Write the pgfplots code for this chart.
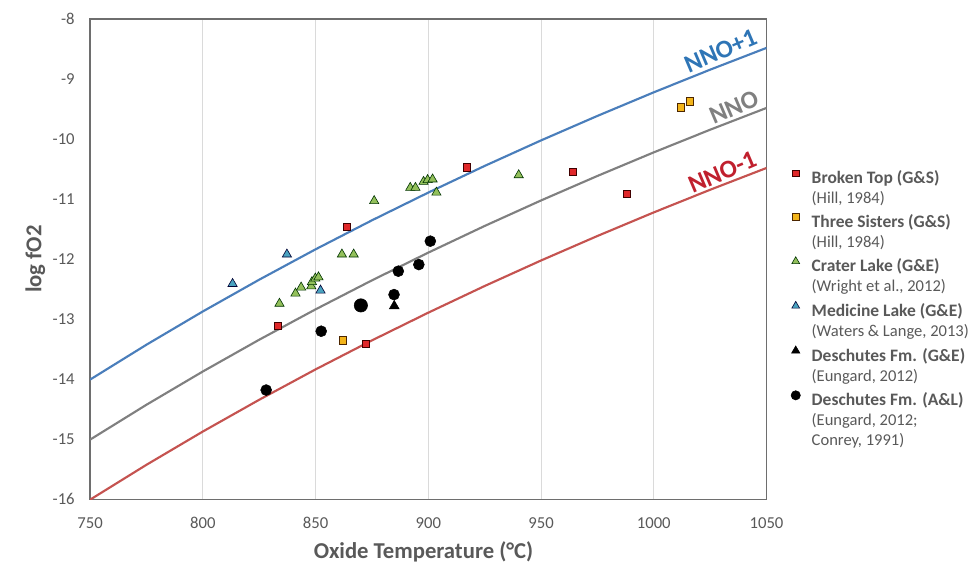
\documentclass[border=0pt]{standalone}
\usepackage{pgfplots}
\pgfplotsset{compat=1.18}
\usepackage{fontspec}
\setmainfont{Carlito}

\definecolor{axisgray}{HTML}{595959}
\definecolor{framegray}{HTML}{6E6E6E}
\definecolor{gridgray}{HTML}{DADADA}
\definecolor{nnoblue}{HTML}{4A7EBB}
\definecolor{nnobluetext}{HTML}{2E75B6}
\definecolor{nnogray}{HTML}{808080}
\definecolor{nnored}{HTML}{C55350}
\definecolor{nnoredtext}{HTML}{C0202E}
\definecolor{btred}{HTML}{E0282A}
\definecolor{tsorange}{HTML}{F2B41A}
\definecolor{clgreen}{HTML}{93C05B}
\definecolor{mlblue}{HTML}{4AA3C0}

% Ni-NiO oxygen buffer and the +/-1 log unit curves
\pgfplotstableread{
T     nno     nnop    nnom
750  -15.006 -14.006 -16.006
775  -14.425 -13.425 -15.425
800  -13.871 -12.871 -14.871
825  -13.342 -12.342 -14.342
850  -12.836 -11.836 -13.836
875  -12.353 -11.353 -13.353
900  -11.891 -10.891 -12.891
925  -11.447 -10.447 -12.447
950  -11.022 -10.022 -12.022
975  -10.614  -9.614 -11.614
1000 -10.221  -9.221 -11.221
1025  -9.844  -8.844 -10.844
1050  -9.481  -8.481 -10.481
}\buffers

\pgfplotstableread{
T     f
833.1 -13.11
863.9 -11.46
872.1 -13.41
917.2 -10.47
964.1 -10.55
987.9 -10.91
}\brokentop

\pgfplotstableread{
T      f
862.0  -13.35
1012.0  -9.47
1016.0  -9.37
}\threesisters

\pgfplotstableread{
T     f
834.0 -12.74
841.1 -12.57
843.6 -12.47
848.1 -12.45
848.4 -12.38
849.9 -12.32
851.3 -12.30
861.7 -11.92
866.9 -11.92
876.0 -11.03
892.0 -10.81
894.3 -10.81
897.9 -10.71
899.7 -10.68
901.9 -10.67
903.6 -10.89
940.1 -10.60
}\craterlake

\pgfplotstableread{
T     f
813.2 -12.41
837.3 -11.92
852.2 -12.52
}\medicinelake

\pgfplotstableread{
T     f
884.9 -12.78
}\deschutesge

\pgfplotstableread{
T     f
828.1 -14.18
852.5 -13.20
884.8 -12.59
886.7 -12.20
895.8 -12.09
900.9 -11.70
}\deschutesal

\newcommand{\refsize}{\fontsize{12.4}{15}\selectfont}
\newcommand{\lgd}[2]{\begin{tabular}[t]{@{}l@{}}\bfseries #1\\\refsize #2\end{tabular}}
\newcommand{\lgdiii}[3]{\begin{tabular}[t]{@{}l@{}}\bfseries #1\\\refsize #2\\\refsize #3\end{tabular}}

\begin{document}
\begin{tikzpicture}
\begin{axis}[
  name=ax,
  scale only axis,
  width=507pt, height=360pt,
  xmin=750, xmax=1050, ymin=-16, ymax=-8,
  xtick={750,800,...,1050},
  ytick={-16,-15,...,-8},
  major tick length=0pt,
  axis line style={framegray, line width=1.1pt},
  xmajorgrids,
  grid style={gridgray, line width=0.7pt},
  /pgf/number format/assume math mode=true,
  /pgf/number format/1000 sep={},
  tick label style={text=axisgray, font=\fontsize{12.5}{15}\selectfont},
  xticklabel style={yshift=-10pt},
  yticklabel style={xshift=-8pt},
  xlabel={Oxide Temperature (°C)},
  ylabel={log fO2},
  every axis x label/.style={at={(axis description cs:0.493,-0.110)}, anchor=center,
    text=axisgray, font=\bfseries\fontsize{17}{20}\selectfont},
  every axis y label/.style={at={(axis description cs:-0.081,0.5)}, rotate=90, anchor=center,
    text=axisgray, font=\bfseries\fontsize{17}{20}\selectfont},
  legend cell align=left,
  legend style={draw=none, fill=none, inner sep=0pt, outer sep=0pt,
    at={(axis description cs:1.0363,0.686)}, anchor=north west,
    font=\fontsize{13.1}{15}\selectfont, text=axisgray,
    row sep=20.6pt,
    nodes={inner sep=0pt},
    /tikz/every odd column/.append style={column sep=8.5pt}},
  legend image code/.code={\draw[#1] plot coordinates {(0cm,0.14cm)};},
  legend image post style={scale=0.85},
]
% buffer curves
\addplot[nnoblue, line width=1.6pt, forget plot] table[x=T, y=nnop] {\buffers};
\addplot[nnogray, line width=1.6pt, forget plot] table[x=T, y=nno] {\buffers};
\addplot[nnored, line width=1.6pt, forget plot] table[x=T, y=nnom] {\buffers};

% samples
\addplot[only marks, mark=square*, mark size=2.7pt,
  mark options={fill=btred, draw=black!75!red, line width=0.4pt}]
  table[x=T, y=f] {\brokentop};
\addlegendentry{\lgd{Broken Top (G\&S)}{(Hill, 1984)}}

\addplot[only marks, mark=square*, mark size=2.7pt,
  mark options={fill=tsorange, draw=black!70!orange, line width=0.4pt}]
  table[x=T, y=f] {\threesisters};
\addlegendentry{\lgd{Three Sisters (G\&S)}{(Hill, 1984)}}

\addplot[only marks, mark=triangle*, mark size=4pt,
  mark options={fill=clgreen, draw=black!80!green, line width=0.45pt}]
  table[x=T, y=f] {\craterlake};
\addlegendentry{\lgd{Crater Lake (G\&E)}{(Wright et al., 2012)}}

\addplot[only marks, mark=triangle*, mark size=4pt,
  mark options={fill=mlblue, draw=black!80!blue, line width=0.45pt}]
  table[x=T, y=f] {\medicinelake};
\addlegendentry{\lgd{Medicine Lake (G\&E)}{(Waters \& Lange, 2013)}}

\addplot[only marks, mark=triangle*, mark size=4.2pt,
  mark options={fill=black, draw=black}]
  table[x=T, y=f] {\deschutesge};
\addlegendentry{\lgd{Deschutes Fm. (G\&E)}{(Eungard, 2012)}}

\addplot[only marks, mark=*, mark size=4.1pt,
  mark options={fill=black, draw=black}]
  table[x=T, y=f] {\deschutesal};
\addlegendentry{\lgdiii{Deschutes Fm. (A\&L)}{(Eungard, 2012;}{Conrey, 1991)}}

% the larger Deschutes sample
\addplot[only marks, mark=*, mark size=5pt, mark options={fill=black, draw=black}, forget plot]
  coordinates {(870.1,-12.77)};

% buffer labels
\node[rotate=23, text=nnobluetext, font=\bfseries\fontsize{19}{19}\selectfont] at (axis cs:1029.6,-8.53) {NNO+1};
\node[rotate=23, text=nnogray, font=\bfseries\fontsize{19}{19}\selectfont] at (axis cs:1035.5,-9.47) {NNO};
\node[rotate=23, text=nnoredtext, font=\bfseries\fontsize{19}{19}\selectfont] at (axis cs:1030.4,-10.55) {NNO-1};
\end{axis}
\pgfresetboundingbox
\path[use as bounding box] ([xshift=-67.5pt,yshift=-49.5pt]ax.south west) rectangle ([xshift=155.5pt,yshift=14.25pt]ax.north east);
\end{tikzpicture}
\end{document}
